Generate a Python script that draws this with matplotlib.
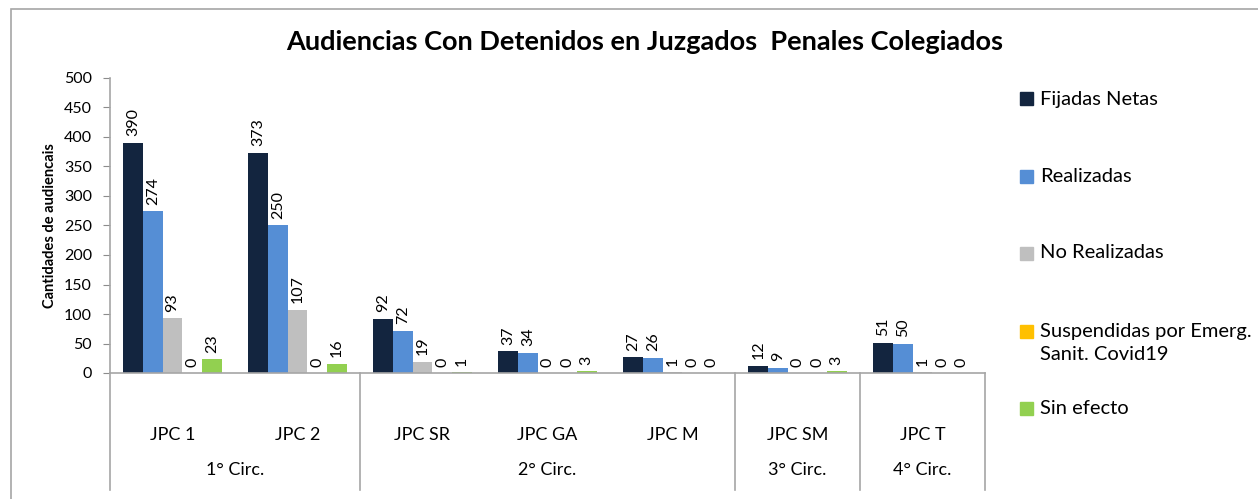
import matplotlib.pyplot as plt
from matplotlib.lines import Line2D
from matplotlib.patches import Rectangle
import numpy as np

plt.rcParams['font.family'] = ['Lato', 'DejaVu Sans']

# data
juzgados = ['JPC 1', 'JPC 2', 'JPC SR', 'JPC GA', 'JPC M', 'JPC SM', 'JPC T']
circs = ['1° Circ.', '2° Circ.', '3° Circ.', '4° Circ.']
circ_sizes = [2, 3, 1, 1]

series = ['Fijadas Netas', 'Realizadas', 'No Realizadas',
          'Suspendidas por Emerg.\nSanit. Covid19', 'Sin efecto']
fijadas = [390, 373, 92, 37, 27, 12, 51]
realizadas = [274, 250, 72, 34, 26, 9, 50]
no_realizadas = [93, 107, 19, 0, 1, 0, 1]
suspendidas = [0, 0, 0, 0, 0, 0, 0]
sin_efecto = [23, 16, 1, 3, 0, 3, 0]
colors = ['#13253f', '#558ed5', '#bfbfbf', '#ffc000', '#92d050']

W, H = 1258, 499
fig = plt.figure(figsize=(W / 100, H / 100), dpi=100)
ax = fig.add_axes([110 / W, 1 - 373 / H, 875 / W, 295 / H])

# outer chart frame
fig.patches.append(Rectangle((11 / W, -0.1), 1.2, 1 - 9 / H + 0.1,
                             transform=fig.transFigure, fill=False,
                             edgecolor='#a6a6a6', linewidth=1.2))

x = np.arange(len(juzgados))
bw = 0.157
data = [fijadas, realizadas, no_realizadas, suspendidas, sin_efecto]
for i, (vals, c, lab) in enumerate(zip(data, colors, series)):
    pos = x - 2 * bw + i * bw
    ax.bar(pos, vals, width=bw, color=c, label=lab)
    for p, v in zip(pos, vals):
        ax.text(p, v + 11, str(v), rotation=90, ha='center', va='bottom',
                fontsize=11.5, color='#000000')

ax.set_xlim(-0.5, len(juzgados) - 0.5)
ax.set_ylim(0, 500)
ax.set_yticks(range(0, 501, 50))
ax.tick_params(axis='y', labelsize=11.5, length=5, color='#8c8c8c', pad=8)
ax.set_xticks([])
for s in ['top', 'right']:
    ax.spines[s].set_visible(False)
for s in ['left', 'bottom']:
    ax.spines[s].set_color('#a6a6a6')
    ax.spines[s].set_linewidth(1.2)

ax.set_ylabel('Cantidades de audiencais', fontsize=10.5, fontweight='bold', labelpad=5)

# two level category axis
tr = ax.get_xaxis_transform()
for i, name in enumerate(juzgados):
    ax.text(i, -0.21, name, transform=tr, ha='center', va='center', fontsize=13)
start = -0.5
bounds = [start]
for name, n in zip(circs, circ_sizes):
    ax.text(start + n / 2, -0.33, name, transform=tr, ha='center', va='center', fontsize=13)
    start += n
    bounds.append(start)
for b in bounds:
    ax.add_line(Line2D([b, b], [0, -0.396], transform=tr, color='#a6a6a6',
                       linewidth=1.2, clip_on=False))

fig.text(645 / W, 1 - 42 / H, 'Audiencias Con Detenidos en Juzgados  Penales Colegiados',
         ha='center', va='center', fontsize=19.5, fontweight='bold')

# legend drawn by hand (Excel style, big gaps, handle on first line)
leg_y = [99, 176, 253, 331, 408]
for lab, c, yy in zip(series, colors, leg_y):
    fig.patches.append(Rectangle((1020 / W, 1 - (yy + 6.5) / H), 13 / W, 13 / H,
                                 transform=fig.transFigure, color=c))
    for k, line in enumerate(lab.split('\n')):
        fig.text(1040 / W, 1 - (yy + 24 * k) / H, line, ha='left', va='center',
                 fontsize=14.5)

fig.savefig('out.png', dpi=100)
